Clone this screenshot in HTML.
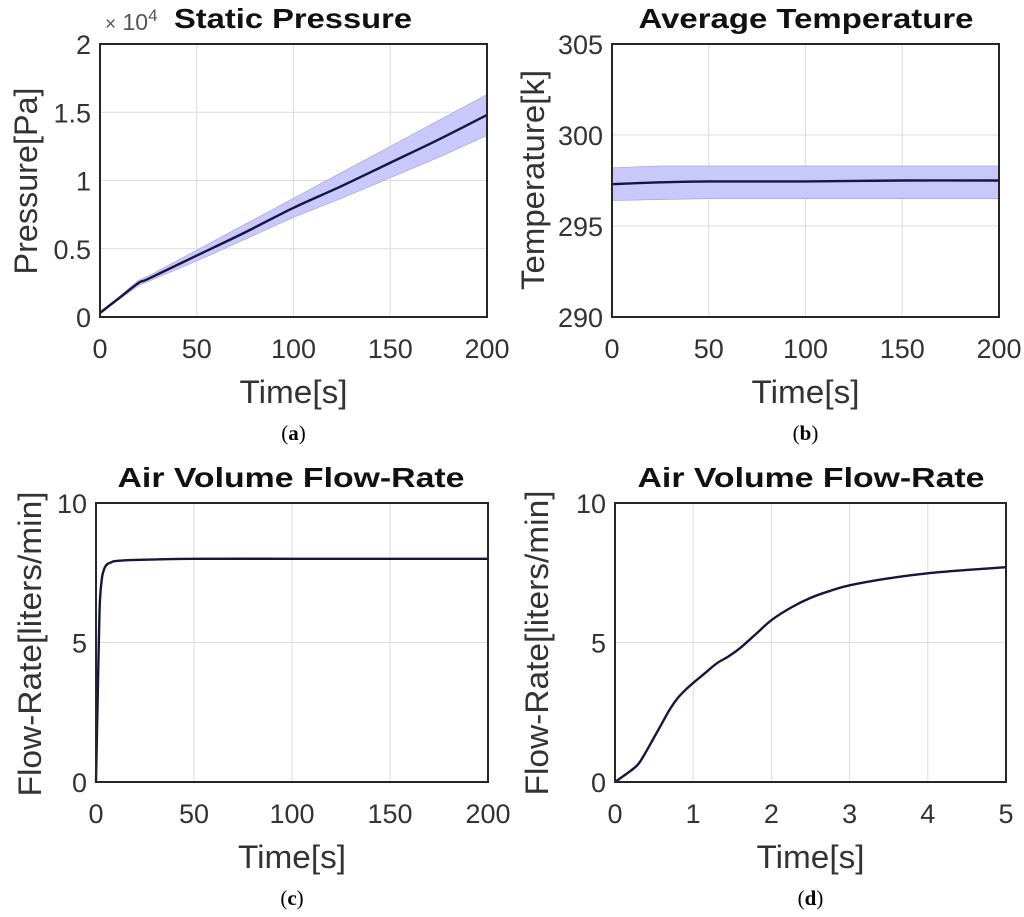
<!DOCTYPE html>
<html><head><meta charset="utf-8"><style>
html,body{margin:0;padding:0;background:#fff;}
svg{display:block;font-family:"Liberation Sans",Arial,sans-serif;}
</style></head><body>
<svg id="fig" width="1024" height="917" viewBox="0 0 1024 917"></svg>
<script>
// Panel (a) Static Pressure (x1e4 Pa)
const aTime = [0, 10, 20, 25, 50, 75, 100, 125, 150, 175, 200];
const aMean = [0.03, 0.14, 0.25, 0.28, 0.45, 0.62, 0.80, 0.96, 1.13, 1.30, 1.48];
const aUpper = [0.04, 0.15, 0.27, 0.30, 0.49, 0.68, 0.87, 1.06, 1.25, 1.44, 1.63];
const aLower = [0.02, 0.13, 0.23, 0.26, 0.41, 0.57, 0.73, 0.87, 1.02, 1.17, 1.33];
const aXTicks = [0, 50, 100, 150, 200];
const aYTicks = [0, 0.5, 1, 1.5, 2];
const aYLabels = ["0", "0.5", "1", "1.5", "2"];
// Panel (b) Average Temperature
const bTime = [0, 25, 50, 100, 150, 200];
const bMean = [297.3, 297.4, 297.45, 297.45, 297.5, 297.5];
const bUpper = [298.2, 298.3, 298.3, 298.3, 298.3, 298.3];
const bLower = [296.4, 296.45, 296.5, 296.5, 296.5, 296.5];
const bXTicks = [0, 50, 100, 150, 200];
const bYTicks = [290, 295, 300, 305];
// Panel (c) Flow rate long
const cTime = [0, 0.5, 1, 1.5, 2, 3, 4, 5, 6, 8, 10, 20, 50, 100, 150, 200];
const cFlow = [0, 1.8, 3.5, 5.2, 6.5, 7.3, 7.6, 7.75, 7.82, 7.88, 7.92, 7.96, 8.0, 8.0, 8.0, 8.0];
const cXTicks = [0, 50, 100, 150, 200];
const cYTicks = [0, 5, 10];
// Panel (d) Flow rate zoom
const dTime = [0, 0.1, 0.2, 0.3, 0.4, 0.5, 0.6, 0.7, 0.8, 0.9, 1.0, 1.15, 1.3, 1.45, 1.6, 1.8, 2.0, 2.25, 2.5, 2.75, 3.0, 3.5, 4.0, 4.5, 5.0];
const dFlow = [0, 0.2, 0.4, 0.65, 1.1, 1.6, 2.1, 2.6, 3.0, 3.3, 3.55, 3.9, 4.25, 4.5, 4.8, 5.3, 5.8, 6.25, 6.6, 6.85, 7.05, 7.3, 7.48, 7.6, 7.7];
const dXTicks = [0, 1, 2, 3, 4, 5];
const dYTicks = [0, 5, 10];

const NS = "http://www.w3.org/2000/svg";
const svg = document.getElementById("fig");
function mk(tag, attrs, parent, text) {
  const e = document.createElementNS(NS, tag);
  for (const k in attrs) e.setAttribute(k, attrs[k]);
  if (text !== undefined) e.textContent = text;
  (parent || svg).appendChild(e);
  return e;
}
function smooth(pts) {
  let d = "M" + pts[0][0].toFixed(2) + "," + pts[0][1].toFixed(2);
  for (let i = 0; i < pts.length - 1; i++) {
    const p0 = pts[Math.max(i - 1, 0)], p1 = pts[i], p2 = pts[i + 1], p3 = pts[Math.min(i + 2, pts.length - 1)];
    const c1x = p1[0] + (p2[0] - p0[0]) / 6, c1y = p1[1] + (p2[1] - p0[1]) / 6;
    const c2x = p2[0] - (p3[0] - p1[0]) / 6, c2y = p2[1] - (p3[1] - p1[1]) / 6;
    d += "C" + c1x.toFixed(2) + "," + c1y.toFixed(2) + " " + c2x.toFixed(2) + "," + c2y.toFixed(2) + " " + p2[0].toFixed(2) + "," + p2[1].toFixed(2);
  }
  return d;
}

function panel(o) {
  const g = mk("g", {});
  
  
  const sx = v => o.L + (v - o.x0) / (o.x1 - o.x0) * (o.R - o.L);
  const sy = v => o.B - (v - o.y0) / (o.y1 - o.y0) * (o.B - o.T);
  mk("rect", {x: o.L, y: o.T, width: o.R - o.L, height: o.B - o.T, fill: "#fff"}, g);
  o.xt.forEach(v => {
    const l = mk("line", {x1: sx(v), x2: sx(v), y1: o.T, y2: o.B, stroke: "#dcdcdc", "stroke-width": 1}, g);
    
    
    const t = mk("text", {x: sx(v), y: o.B + 41, "text-anchor": "middle", "font-size": 27, fill: "#333"}, g, String(v));
    
    
  });
  o.yt.forEach((v, i) => {
    const l = mk("line", {x1: o.L, x2: o.R, y1: sy(v), y2: sy(v), stroke: "#dcdcdc", "stroke-width": 1}, g);
    
    
    const t = mk("text", {x: o.L - 9, y: sy(v) + 10, "text-anchor": "end", "font-size": 27, fill: "#333"}, g, o.yl ? o.yl[i] : String(v));
    
    
  });
  if (o.up) {
    let d = "";
    o.t.forEach((v, i) => d += (i ? "L" : "M") + sx(v) + "," + sy(o.up[i]));
    for (let i = o.t.length - 1; i >= 0; i--) d += "L" + sx(o.t[i]) + "," + sy(o.lo[i]);
    const band = mk("path", {d: d + "Z", fill: "#c8c8fa", stroke: "#a0a0dc", "stroke-width": 0.6}, g);
    
    
  }
  const pts = o.t.map((v, i) => [sx(v), sy(o.y[i])]);
  const line = mk("path", {d: smooth(pts), fill: "none", stroke: "#151540", "stroke-width": 2.4, "stroke-linejoin": "round"}, g);
  
  
  const box = mk("rect", {x: o.L, y: o.T, width: o.R - o.L, height: o.B - o.T, fill: "none", stroke: "#262626", "stroke-width": 2}, g);
  
  
  const cx = (o.L + o.R) / 2;
  const title = mk("text", {x: o.tx, y: o.T - 16, "text-anchor": "middle", "font-size": 28, "font-weight": "bold", fill: "#111", textLength: o.tw, lengthAdjust: "spacingAndGlyphs"}, g, o.title);
  
  
  const xl = mk("text", {x: cx, y: o.B + 86, "text-anchor": "middle", "font-size": 32, fill: "#333", textLength: 108, lengthAdjust: "spacingAndGlyphs"}, g, "Time[s]");
  
  
  const yl = mk("text", {x: 0, y: 0, "text-anchor": "middle", "font-size": 32, fill: "#333", textLength: o.ylw, lengthAdjust: "spacingAndGlyphs", transform: "translate(" + o.ylx + "," + o.yly + ") rotate(-90)"}, g, o.ytitle);
  
  
  const sub = mk("text", {x: cx, y: o.B + 123, "text-anchor": "middle", "font-size": 21, "font-family": "Liberation Serif,serif", fill: "#000"}, g);
  
  
  mk("tspan", {}, sub, "(");
  mk("tspan", {"font-weight": "bold"}, sub, o.id);
  mk("tspan", {}, sub, ")");
  return g;
}

panel({id: "a", L: 100, R: 487, T: 44, B: 317, x0: 0, x1: 200, y0: 0, y1: 2, xt: aXTicks, yt: aYTicks, yl: aYLabels,
  t: aTime, y: aMean, up: aUpper, lo: aLower, title: "Static Pressure", tx: 293, tw: 238,
  ytitle: "Pressure[Pa]", ylx: 37, yly: 181, ylw: 187});
const ex = mk("text", {x: 105, y: 30, "font-size": 23, fill: "#555"}, svg);


mk("tspan", {"font-size": 19}, ex, "\u00d7");
mk("tspan", {}, ex, " 10");
mk("tspan", {dy: -9, "font-size": 17}, ex, "4");

panel({id: "b", L: 612, R: 999, T: 44, B: 317, x0: 0, x1: 200, y0: 290, y1: 305, xt: bXTicks, yt: bYTicks,
  t: bTime, y: bMean, up: bUpper, lo: bLower, title: "Average Temperature", tx: 806, tw: 335,
  ytitle: "Temperature[k]", ylx: 544, yly: 180, ylw: 220});

panel({id: "c", L: 96, R: 488, T: 503, B: 782, x0: 0, x1: 200, y0: 0, y1: 10, xt: cXTicks, yt: cYTicks,
  t: cTime, y: cFlow, title: "Air Volume Flow-Rate", tx: 291, tw: 347,
  ytitle: "Flow-Rate[liters/min]", ylx: 41, yly: 644, ylw: 305});

panel({id: "d", L: 615, R: 1006, T: 503, B: 782, x0: 0, x1: 5, y0: 0, y1: 10, xt: dXTicks, yt: dYTicks,
  t: dTime, y: dFlow, title: "Air Volume Flow-Rate", tx: 811, tw: 347,
  ytitle: "Flow-Rate[liters/min]", ylx: 548, yly: 643, ylw: 305});
</script>
</body></html>
